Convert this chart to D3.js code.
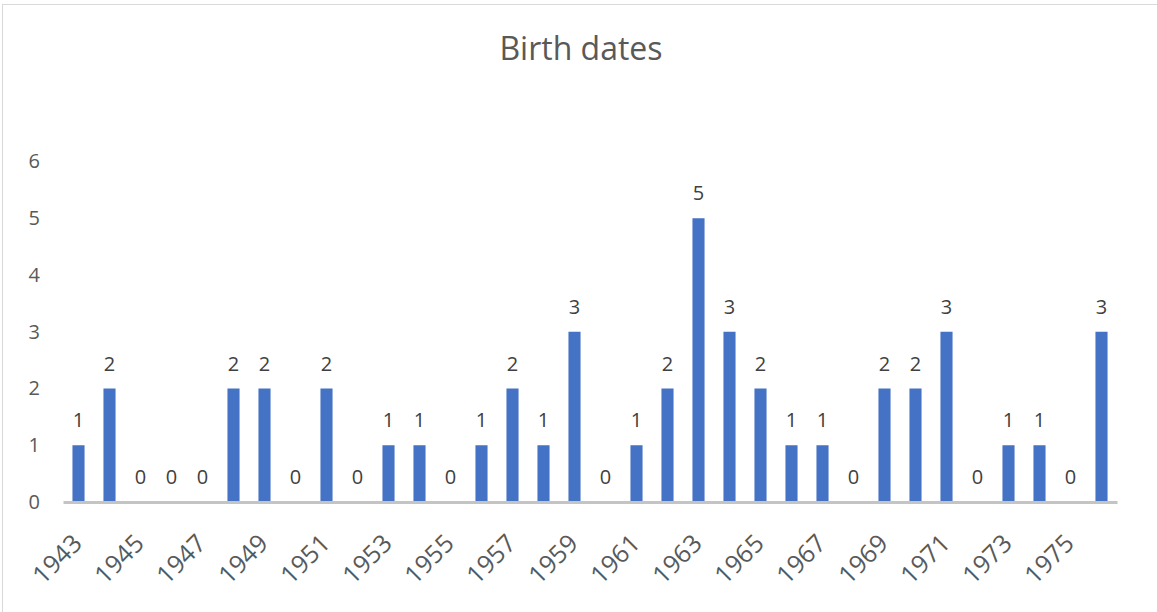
<!DOCTYPE html>
<html>
<head>
<meta charset="utf-8">
<script src="https://cdn.jsdelivr.net/npm/d3@7"></script>
<style>
  html, body { margin: 0; padding: 0; background: #fff; }
  svg { display: block; font-family: "Open Sans", "Noto Sans", sans-serif; }
</style>
</head>
<body>
<svg id="chart" width="1157" height="612"></svg>
<script>
// Birth years and how many people were born in each
const years = [1943, 1944, 1945, 1946, 1947, 1948, 1949, 1950, 1951, 1952,
               1953, 1954, 1955, 1956, 1957, 1958, 1959, 1960, 1961, 1962,
               1963, 1964, 1965, 1966, 1967, 1968, 1969, 1970, 1971, 1972,
               1973, 1974, 1975, 1976];
const counts = [1, 2, 0, 0, 0, 2, 2, 0, 2, 0,
                1, 1, 0, 1, 2, 1, 3, 0, 1, 2,
                5, 3, 2, 1, 1, 0, 2, 2, 3, 0,
                1, 1, 0, 3];
const yTicks = [0, 1, 2, 3, 4, 5, 6];
const xTickLabels = years.filter((y, i) => i % 2 === 0);
const title = "Birth dates";

const svg = d3.select("#chart");
const W = 1157, H = 612;
const FONT = "\"Open Sans\", \"Noto Sans\", sans-serif";

// outer chart frame
svg.append("rect")
  .attr("x", 2.5).attr("y", 4.5)
  .attr("width", W + 10).attr("height", H + 10)
  .attr("fill", "none").attr("stroke", "#D9D9D9").attr("stroke-width", 1);

const x = d3.scaleBand()
  .domain(years)
  .range([63, 1117])
  .paddingInner(0.61)
  .paddingOuter(0.305);

const y = d3.scaleLinear()
  .domain([0, 6])
  .range([502, 161.5]);

// title
svg.append("text")
  .attr("x", 581).attr("y", 60)
  .attr("text-anchor", "middle")
  .attr("font-size", 32)
  .attr("fill", "#595959")
  .text(title);

// y axis labels (no gridlines, no axis line)
const yAxis = d3.axisLeft(y).tickValues(yTicks).tickFormat(d3.format("d"))
  .tickSize(0).tickPadding(0);
const yg = svg.append("g").attr("transform", "translate(40,0)").call(yAxis);
yg.select(".domain").remove();
yg.selectAll("text")
  .attr("font-size", 20)
  .attr("font-family", FONT)
  .attr("fill", "#595959");

// bars
svg.append("g").selectAll("rect")
  .data(years)
  .join("rect")
  .attr("x", d => x(d))
  .attr("width", x.bandwidth())
  .attr("y", (d, i) => y(counts[i]))
  .attr("height", (d, i) => y(0) - y(counts[i]))
  .attr("fill", "#4472C4");

// value labels
svg.append("g").selectAll("text")
  .data(years)
  .join("text")
  .attr("x", d => x(d) + x.bandwidth() / 2)
  .attr("y", (d, i) => y(counts[i]) - 18)
  .attr("text-anchor", "middle")
  .attr("font-size", 20)
  .attr("fill", "#404040")
  .text((d, i) => counts[i]);

// category axis
const xAxis = d3.axisBottom(x).tickValues(xTickLabels).tickSize(0).tickPadding(0);
const xg = svg.append("g").attr("transform", "translate(0,502)").call(xAxis);
xg.select(".domain")
  .attr("stroke", "#C4C4C4").attr("stroke-width", 3);
xg.selectAll("text")
  .attr("font-size", 25)
  .attr("font-family", FONT)
  .attr("fill", "#595959")
  .attr("text-anchor", "end")
  .attr("dy", "0")
  .attr("y", 0)
  .attr("transform", "translate(5,43) rotate(-45)");
</script>
</body>
</html>
